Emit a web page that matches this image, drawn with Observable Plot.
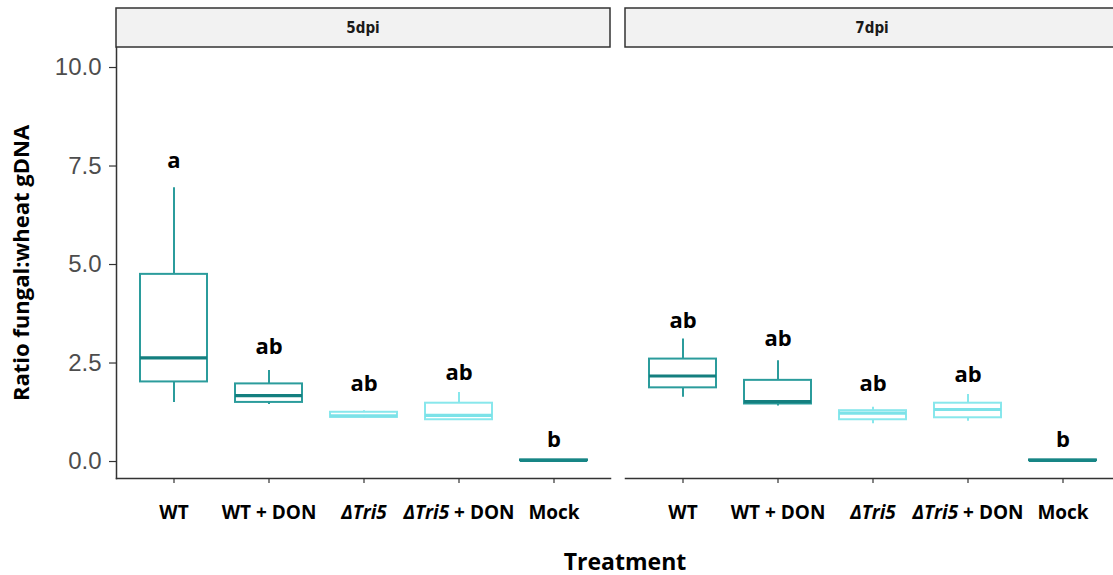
<!DOCTYPE html>
<html><head><meta charset="utf-8">
<script src="https://cdn.jsdelivr.net/npm/d3@7"></script>
<script src="https://cdn.jsdelivr.net/npm/@observablehq/plot@0.6"></script>
<style>
body{margin:0;overflow:hidden;background:#fff}
#chart svg{max-width:none !important;height:auto}
</style>
</head><body><div id="chart"></div>
<script>
// ---- data ----
const panels = ["5dpi", "7dpi"];
const treatments = ["WT", "WT + DON", "ΔTri5", "ΔTri5 + DON", "Mock"];
const yTicks = [0, 2.5, 5, 7.5, 10];

// 5 dpi box statistics
const lower5  = [1.50, 1.45, 1.10, 1.05, 0.02];
const q1_5    = [2.02, 1.50, 1.12, 1.06, 0.02];
const median5 = [2.63, 1.67, 1.16, 1.17, 0.03];
const q3_5    = [4.75, 1.97, 1.25, 1.48, 0.04];
const upper5  = [6.95, 2.31, 1.29, 1.75, 0.04];
const letters5 = ["a", "ab", "ab", "ab", "b"];
const letterY5 = [7.44, 2.74, 1.78, 2.08, 0.36];

// 7 dpi box statistics
const lower7  = [1.63, 1.41, 0.96, 1.02, 0.02];
const q1_7    = [1.87, 1.46, 1.06, 1.11, 0.02];
const median7 = [2.17, 1.52, 1.23, 1.32, 0.03];
const q3_7    = [2.60, 2.06, 1.29, 1.48, 0.04];
const upper7  = [3.11, 2.56, 1.38, 1.70, 0.04];
const letters7 = ["ab", "ab", "ab", "ab", "b"];
const letterY7 = [3.38, 2.94, 1.80, 2.01, 0.36];

// ---- styles ----
const boxColor = {"WT": "#2b9c9c", "WT + DON": "#2b9c9c", "ΔTri5": "#88e7ec", "ΔTri5 + DON": "#88e7ec", "Mock": "#178585"};
const medColor = {"WT": "#147f7f", "WT + DON": "#147f7f", "ΔTri5": "#7ce2e8", "ΔTri5 + DON": "#7ce2e8", "Mock": "#178585"};

const stats = {
  "5dpi": [lower5, q1_5, median5, q3_5, upper5, letters5, letterY5],
  "7dpi": [lower7, q1_7, median7, q3_7, upper7, letters7, letterY7]
};
const rows = panels.flatMap(p => treatments.map((t, i) => {
  const s = stats[p];
  return {panel: p, treatment: t, lower: s[0][i], q1: s[1][i], median: s[2][i], q3: s[3][i], upper: s[4][i], letter: s[5][i], letterY: s[6][i]};
}));

const W = 1119, H = 575;
const plot = Plot.plot({
  width: W, height: H,
  marginLeft: 116, marginRight: 0, marginTop: 47, marginBottom: 97,
  style: {background: "#fff", maxWidth: "none"},
  fx: {domain: panels, paddingInner: 0.0295, paddingOuter: 0, axis: null},
  x: {domain: treatments, type: "band", paddingInner: 0.3, paddingOuter: 0.224},
  y: {domain: [-0.431, 10.508]},
  marks: [
    Plot.axisX({anchor: "bottom", tickSize: 5, tickPadding: 22, stroke: "#333", strokeWidth: 1.2,
      label: "Treatment", labelAnchor: "center", labelOffset: 91, labelArrow: "none"}),
    Plot.axisY({anchor: "left", ticks: yTicks, tickFormat: d3.format(".1f"), tickSize: 7, tickPadding: 8,
      stroke: "#333", strokeWidth: 1.2,
      label: "Ratio fungal:wheat gDNA", labelAnchor: "center", labelOffset: 103, labelArrow: "none"}),
    Plot.frame({anchor: "bottom", stroke: "#333", strokeWidth: 1.5}),
    Plot.frame({anchor: "left", facetAnchor: "left", stroke: "#333", strokeWidth: 1.5}),
    Plot.ruleX(rows, {fx: "panel", x: "treatment", y1: "lower", y2: "q1", stroke: d => boxColor[d.treatment], strokeWidth: 2}),
    Plot.ruleX(rows, {fx: "panel", x: "treatment", y1: "q3", y2: "upper", stroke: d => boxColor[d.treatment], strokeWidth: 2}),
    Plot.barY(rows, {fx: "panel", x: "treatment", y1: "q1", y2: "q3", fill: "white", stroke: d => boxColor[d.treatment], strokeWidth: 2}),
    Plot.tickY(rows, {fx: "panel", x: "treatment", y: "median", stroke: d => medColor[d.treatment], strokeWidth: 3.2}),
    Plot.text(rows, {fx: "panel", x: "treatment", y: "letterY", text: "letter", lineAnchor: "bottom",
      fontSize: 22, fontWeight: "bold", fontFamily: "Open Sans", fill: "#000"})
  ]
});

const svg = d3.select(plot);
// axis text styling
svg.selectAll('[aria-label="x-axis tick label"]')
  .attr("font-size", 19).attr("font-weight", "bold").attr("font-family", "Open Sans").attr("fill", "#000");
svg.selectAll('[aria-label="y-axis tick label"]')
  .attr("font-size", 24).attr("font-family", "Liberation Sans, Arial, sans-serif").attr("fill", "#4d4d4d");
svg.selectAll('[aria-label="x-axis label"]')
  .attr("font-size", 23).attr("font-weight", "bold").attr("font-family", "Open Sans").attr("fill", "#000")
  .each(function() {
    const g = d3.select(this);
    g.attr("transform", (g.attr("transform") || "") + " translate(7,0)");
  });
svg.selectAll('[aria-label="y-axis label"]')
  .attr("font-size", 22).attr("font-weight", "bold").attr("font-family", "Open Sans").attr("fill", "#000");

// italic strain names in x tick labels
svg.selectAll('[aria-label="x-axis tick label"] text').each(function() {
  const el = d3.select(this);
  const s = el.text();
  if (s.startsWith("ΔTri5")) {
    el.text("");
    el.append("tspan").attr("font-style", "italic").text("ΔTri5");
    const rest = s.slice(5);
    if (rest) el.append("tspan").text(rest);
  }
});

// facet strips, positioned with the fx scale
const fx = plot.scale("fx");
const strips = svg.append("g").attr("aria-label", "strips");
panels.forEach(p => {
  const x0 = fx.apply(p);
  strips.append("rect").attr("x", x0).attr("y", 8).attr("width", fx.bandwidth).attr("height", 39)
    .attr("fill", "#f2f2f2").attr("stroke", "#333").attr("stroke-width", 1.5);
  strips.append("text").attr("x", x0 + fx.bandwidth / 2).attr("y", 28).attr("dy", "0.35em")
    .attr("text-anchor", "middle").attr("font-size", 15).attr("font-weight", "bold")
    .attr("font-family", "DejaVu Sans Condensed, sans-serif").attr("font-stretch", "condensed")
    .attr("fill", "#1a1a1a").text(p);
});

document.getElementById("chart").appendChild(plot);
</script>
</body></html>
